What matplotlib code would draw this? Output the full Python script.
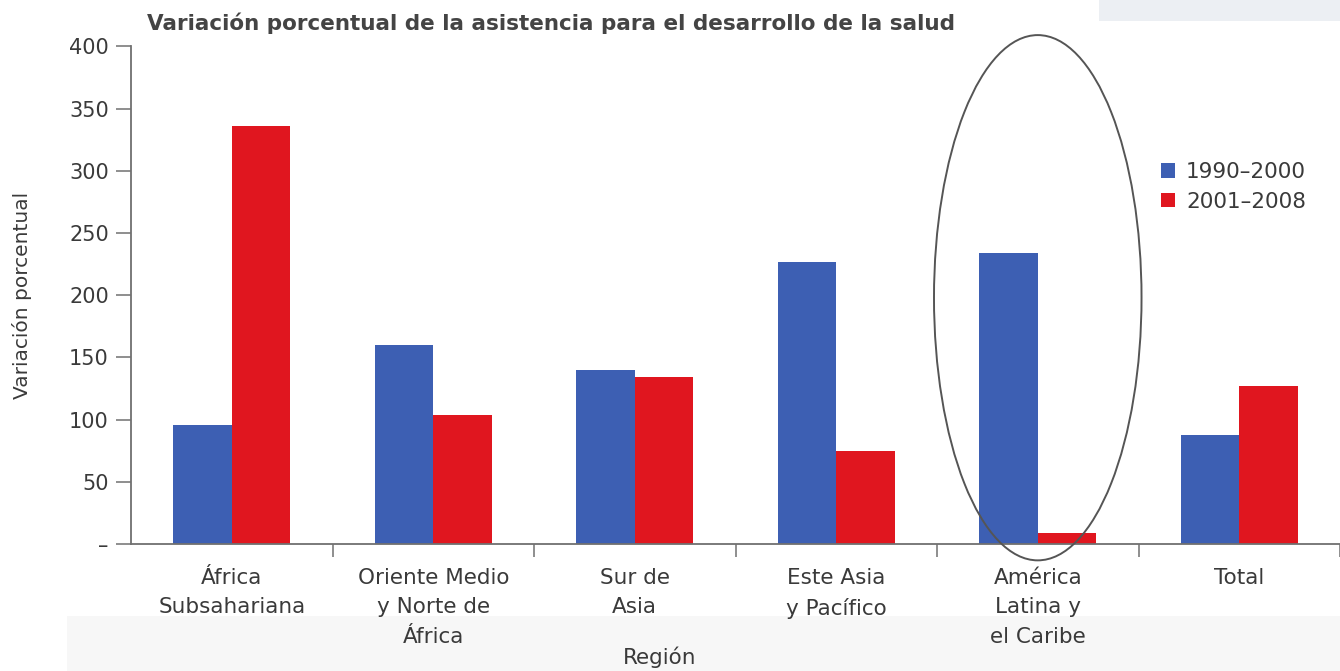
import matplotlib
matplotlib.use("Agg")
import matplotlib.pyplot as plt
from matplotlib.patches import Ellipse, Rectangle
import numpy as np

regions = ["África\nSubsahariana", "Oriente Medio\ny Norte de\nÁfrica", "Sur de\nAsia",
           "Este Asia\ny Pacífico", "América\nLatina y\nel Caribe", "Total"]
series_names = ["1990–2000", "2001–2008"]
values_1990_2000 = [96, 160, 140, 227, 234, 88]
values_2001_2008 = [336, 104, 134, 75, 9, 127]
yticks = [0, 50, 100, 150, 200, 250, 300, 350, 400]
ytick_labels = ["–", "50", "100", "150", "200", "250", "300", "350", "400"]

blue = "#3d5fb3"
red = "#e0161f"
text_gray = "#3a3a3a"

plt.rcParams["font.family"] = ["DejaVu Sans"]

fig = plt.figure(figsize=(13.4, 6.71), dpi=100)
fig.patch.set_facecolor("white")

# faint page tint at the bottom and upper-right corner
fig.add_artist(Rectangle((0.05, 0.0), 0.95, 0.082, transform=fig.transFigure,
                         facecolor="#f7f7f7", edgecolor="none", zorder=-5))
fig.add_artist(Rectangle((0.82, 0.968), 0.18, 0.032, transform=fig.transFigure,
                         facecolor="#eceff3", edgecolor="none", zorder=-5))

ax = fig.add_axes([0.0978, 0.189, 0.9022, 0.742])
ax.set_facecolor("none")

x = np.arange(len(regions))
w = 0.29
ax.bar(x - w / 2, values_1990_2000, width=w, color=blue, label=series_names[0], zorder=2)
ax.bar(x + w / 2, values_2001_2008, width=w, color=red, label=series_names[1], zorder=2)

ax.set_xlim(-0.5, 5.45)
ax.set_ylim(0, 400)

for s in ["top", "right"]:
    ax.spines[s].set_visible(False)
for s in ["left", "bottom"]:
    ax.spines[s].set_color("#707070")
    ax.spines[s].set_linewidth(1.3)

ax.set_yticks(yticks)
ax.set_yticklabels(ytick_labels)
ax.tick_params(axis="y", length=11, width=1.1, color="#707070", labelsize=15,
               labelcolor=text_gray, pad=5)

# group separators as minor ticks, category labels as major (no tick)
ax.set_xticks(x)
ax.set_xticklabels(regions, linespacing=1.6)
ax.set_xticks(np.arange(len(regions)) + 0.5, minor=True)
ax.tick_params(axis="x", which="major", length=0, labelsize=15.5, labelcolor=text_gray, pad=17)
ax.tick_params(axis="x", which="minor", length=9, width=1.1, color="#707070", direction="out")

ax.set_ylabel("Variación porcentual", fontsize=14.5, color=text_gray)
ax.yaxis.set_label_coords(-0.082, 0.5)

fig.text(0.492, 0.021, "Región", fontsize=15.5, color=text_gray, ha="center", va="center")

fig.text(0.110, 0.965, "Variación porcentual de la asistencia para el desarrollo de la salud",
         fontsize=15.5, fontweight="bold", color="#444444", va="center", ha="left")

leg = ax.legend(loc="upper left", bbox_to_anchor=(0.845, 0.785), frameon=False,
                fontsize=15.5, handlelength=0.65, handleheight=0.65, handletextpad=0.5,
                labelspacing=0.45, borderaxespad=0)
for t in leg.get_texts():
    t.set_color(text_gray)

# highlight around América Latina y el Caribe
ell = Ellipse((4.0, 198), width=1.03, height=422, fill=False, edgecolor="#555555",
              linewidth=1.4, clip_on=False, zorder=3)
ax.add_patch(ell)

fig.savefig("out.png", dpi=100)
